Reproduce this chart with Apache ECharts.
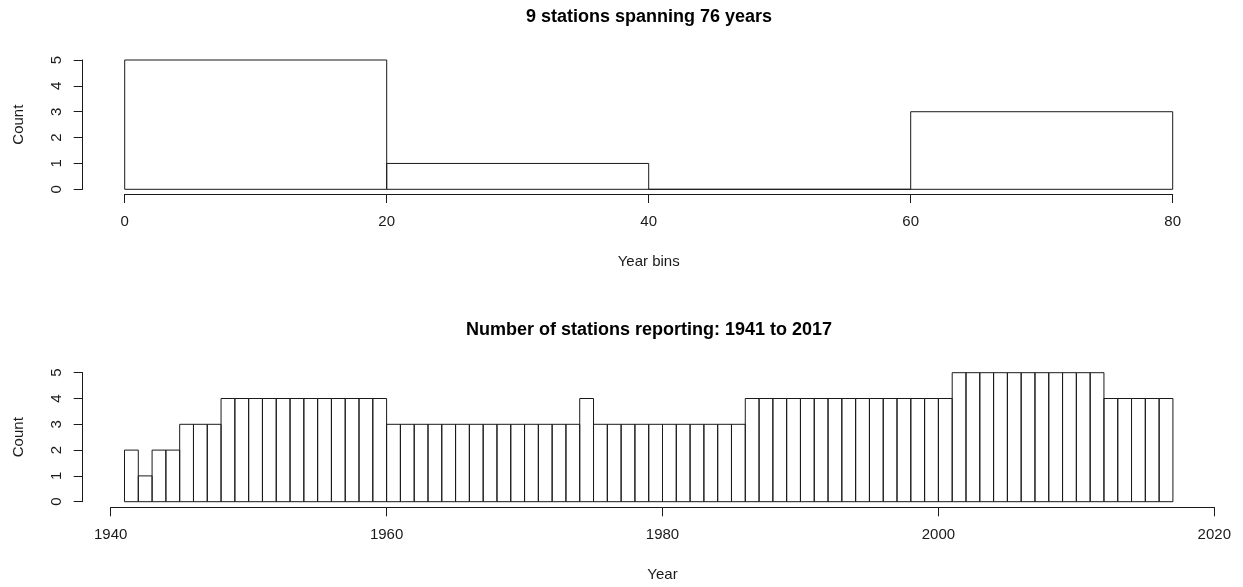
<!DOCTYPE html>
<html>
<head>
<meta charset="utf-8">
<script src="https://cdn.jsdelivr.net/npm/echarts@6/dist/echarts.min.js"></script>
<style>
html,body{margin:0;padding:0;background:#fff;}
#chart{width:1243px;height:587px;}
</style>
</head>
<body>
<div id="chart"></div>
<script>
// ---- Data ----
const topTitle = "9 stations spanning 76 years";
const bottomTitle = "Number of stations reporting: 1941 to 2017";
const topBinStarts = [0, 20, 40, 60];
const topBinEnds = [20, 40, 60, 80];
const topCounts = [5, 1, 0, 3];
const topXTicks = [0, 20, 40, 60, 80];
const countTicks = [0, 1, 2, 3, 4, 5];

const yearStarts = [1941,1942,1943,1944,1945,1946,1947,1948,1949,1950,
  1951,1952,1953,1954,1955,1956,1957,1958,1959,1960,
  1961,1962,1963,1964,1965,1966,1967,1968,1969,1970,
  1971,1972,1973,1974,1975,1976,1977,1978,1979,1980,
  1981,1982,1983,1984,1985,1986,1987,1988,1989,1990,
  1991,1992,1993,1994,1995,1996,1997,1998,1999,2000,
  2001,2002,2003,2004,2005,2006,2007,2008,2009,2010,
  2011,2012,2013,2014,2015,2016];
const yearCounts = [2,1,2,2,3,3,3,4,4,4,
  4,4,4,4,4,4,4,4,4,3,
  3,3,3,3,3,3,3,3,3,3,
  3,3,3,4,3,3,3,3,3,3,
  3,3,3,3,3,4,4,4,4,4,
  4,4,4,4,4,4,4,4,4,4,
  5,5,5,5,5,5,5,5,5,5,
  5,4,4,4,4,4];
const bottomXTicks = [1940, 1960, 1980, 2000, 2020];

// ---- Build ----
const FONT = "'Liberation Sans', Arial, Helvetica, sans-serif";
const topData = topBinStarts.map((s, i) => [s, topBinEnds[i], topCounts[i]]);
const bottomData = yearStarts.map((s, i) => [s, s + 1, yearCounts[i]]);

function renderRect(params, api) {
  const x0 = api.value(0), x1 = api.value(1), c = api.value(2);
  const p0 = api.coord([x0, c]);
  const p1 = api.coord([x1, 0]);
  return {
    type: 'rect',
    shape: { x: p0[0], y: p0[1], width: p1[0] - p0[0], height: p1[1] - p0[1] },
    style: { fill: 'rgba(255,255,255,0)', stroke: '#1a1a1a', lineWidth: 1 }
  };
}

const labelStyle = { color: '#1a1a1a', fontSize: 15, fontFamily: FONT };
const axisLineStyle = { lineStyle: { color: '#1a1a1a', width: 1 } };

function xAxisDef(gridIndex, ticks, name, offset) {
  return {
    type: 'value', gridIndex: gridIndex,
    min: ticks[0], max: ticks[ticks.length - 1], interval: ticks[1] - ticks[0],
    offset: offset,
    name: name, nameLocation: 'middle', nameGap: 60,
    nameTextStyle: labelStyle,
    axisLine: Object.assign({ show: true, onZero: false }, axisLineStyle),
    axisTick: Object.assign({ show: true, length: 9, inside: false }, axisLineStyle),
    axisLabel: Object.assign({ margin: 20, showMinLabel: true, showMaxLabel: true,
      formatter: function (v) { return String(v); } }, labelStyle),
    splitLine: { show: false }
  };
}
function yAxisDef(gridIndex, offset) {
  return {
    type: 'value', gridIndex: gridIndex,
    min: countTicks[0], max: countTicks[countTicks.length - 1], interval: countTicks[1] - countTicks[0],
    offset: offset,
    name: 'Count', nameLocation: 'middle', nameGap: 56, nameRotate: 90,
    nameTextStyle: labelStyle,
    axisLine: Object.assign({ show: true, onZero: false }, axisLineStyle),
    axisTick: Object.assign({ show: true, length: 9, inside: false }, axisLineStyle),
    axisLabel: Object.assign({ margin: 18, rotate: 90, showMinLabel: true, showMaxLabel: true,
      formatter: function (v) { return String(v); } }, labelStyle),
    splitLine: { show: false }
  };
}

const chart = echarts.init(document.getElementById('chart'), null, { renderer: 'canvas' });
chart.setOption({
  animation: false,
  backgroundColor: '#ffffff',
  title: [
    { text: topTitle, left: 649, top: 8, textAlign: 'center', padding: 0,
      textStyle: { fontSize: 18, fontWeight: 'bold', color: '#000', fontFamily: FONT } },
    { text: bottomTitle, left: 649, top: 321, textAlign: 'center', padding: 0,
      textStyle: { fontSize: 18, fontWeight: 'bold', color: '#000', fontFamily: FONT } }
  ],
  grid: [
    { left: 124.7, right: 70.3, top: 60, bottom: 397.7 },
    { left: 110.7, right: 28.7, top: 372.7, bottom: 85.3 }
  ],
  xAxis: [
    xAxisDef(0, topXTicks, 'Year bins', 4.7),
    xAxisDef(1, bottomXTicks, 'Year', 5.6)
  ],
  yAxis: [
    yAxisDef(0, 42),
    yAxisDef(1, 28)
  ],
  series: [
    { type: 'custom', xAxisIndex: 0, yAxisIndex: 0, clip: false,
      renderItem: renderRect, encode: { x: [0, 1], y: 2 }, data: topData },
    { type: 'custom', xAxisIndex: 1, yAxisIndex: 1, clip: false,
      renderItem: renderRect, encode: { x: [0, 1], y: 2 }, data: bottomData }
  ]
});
</script>
</body>
</html>
